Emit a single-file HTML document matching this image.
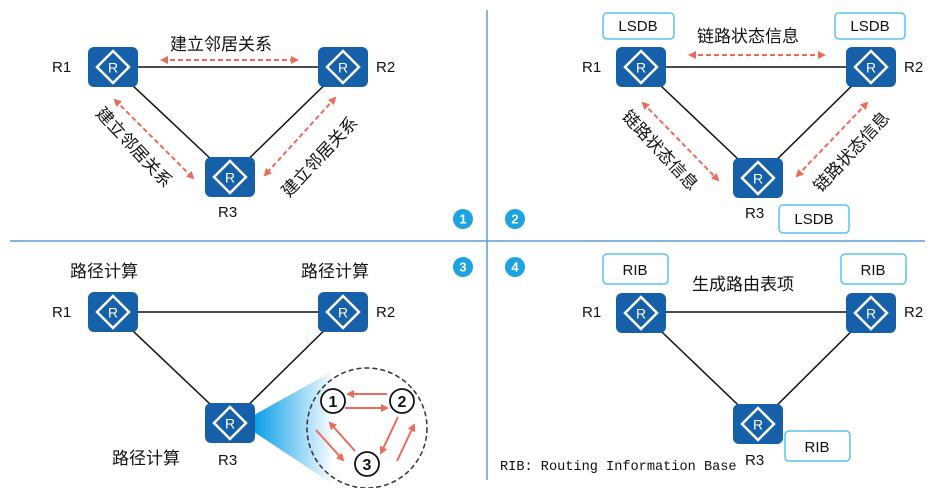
<!DOCTYPE html>
<html><head><meta charset="utf-8"><style>
body{margin:0;background:#fff}
svg{display:block}
text{font-family:"Liberation Sans","Noto Sans CJK SC",sans-serif;fill:#111}
</style></head><body>
<svg width="935" height="488" viewBox="0 0 935 488" xmlns="http://www.w3.org/2000/svg">
<defs>
<g id="rt">
<rect x="0" y="0" width="50" height="40" rx="6" fill="#1560a8"/>
<path d="M25 4 L41 20 L25 36 L9 20 Z" fill="none" stroke="#fff" stroke-width="2.5"/>
<text x="25" y="25.5" font-size="14" text-anchor="middle" style="fill:#fff">R</text>
</g>
<marker id="ah" markerWidth="8" markerHeight="8" refX="6" refY="4" orient="auto-start-reverse" markerUnits="userSpaceOnUse">
<path d="M0 0 L8 4 L0 8 Z" fill="#ee6a5a"/></marker>
<linearGradient id="gr" x1="0" x2="1" y1="0" y2="0">
<stop offset="0" stop-color="#0a9ee8"/><stop offset="1" stop-color="#0a9ee8" stop-opacity="0.05"/></linearGradient>
</defs>
<line x1="487" y1="10" x2="487" y2="480" stroke="#5b9bd5" stroke-width="1.5"/>
<line x1="10" y1="241" x2="925" y2="241" stroke="#5b9bd5" stroke-width="1.5"/>
<g font-size="13" font-weight="bold" text-anchor="middle">
<circle cx="463" cy="219" r="10" fill="#1ca3e2"/><text x="463" y="223.5" style="fill:#fff">1</text>
<circle cx="515" cy="219" r="10" fill="#1ca3e2"/><text x="515" y="223.5" style="fill:#fff">2</text>
<circle cx="463" cy="267" r="10" fill="#1ca3e2"/><text x="463" y="271.5" style="fill:#fff">3</text>
<circle cx="515" cy="267" r="10" fill="#1ca3e2"/><text x="515" y="271.5" style="fill:#fff">4</text>
</g>

<!-- Q1 -->
<g stroke="#111" stroke-width="1.5">
<line x1="113" y1="67" x2="343" y2="67"/><line x1="113" y1="67" x2="230" y2="177"/><line x1="343" y1="67" x2="230" y2="177"/>
</g>
<g stroke="#ee6a5a" stroke-width="2" stroke-dasharray="5,3" marker-start="url(#ah)" marker-end="url(#ah)">
<line x1="162" y1="60" x2="297" y2="60"/>
<line x1="115" y1="100" x2="193" y2="178"/>
<line x1="335" y1="98" x2="265" y2="175"/>
</g>
<use href="#rt" x="88" y="47"/><use href="#rt" x="318" y="47"/><use href="#rt" x="205" y="157"/>
<g font-size="15"><text x="52" y="72">R1</text><text x="376" y="72">R2</text><text x="218" y="217">R3</text></g>
<text x="170" y="50" font-size="17">建立邻居关系</text>
<text font-size="17" transform="translate(95,114) rotate(47)">建立邻居关系</text>
<text font-size="17" transform="translate(289,198) rotate(-47)">建立邻居关系</text>

<!-- Q2 -->
<g stroke="#111" stroke-width="1.5">
<line x1="641" y1="67" x2="871" y2="67"/><line x1="641" y1="67" x2="758" y2="178"/><line x1="871" y1="67" x2="758" y2="178"/>
</g>
<g stroke="#ee6a5a" stroke-width="2" stroke-dasharray="5,3" marker-start="url(#ah)" marker-end="url(#ah)">
<line x1="690" y1="55" x2="824" y2="55"/>
<line x1="643" y1="103" x2="718" y2="180"/>
<line x1="867" y1="103" x2="797" y2="176"/>
</g>
<use href="#rt" x="616" y="47"/><use href="#rt" x="846" y="47"/><use href="#rt" x="733" y="158"/>
<g font-size="15"><text x="582" y="72">R1</text><text x="904" y="72">R2</text><text x="745" y="218">R3</text></g>
<text x="697" y="42" font-size="17">链路状态信息</text>
<text font-size="17" transform="translate(621,117) rotate(47)">链路状态信息</text>
<text font-size="17" transform="translate(821,193) rotate(-47)">链路状态信息</text>
<g fill="#fff" stroke="#5bc3ee" stroke-width="1.5">
<rect x="603" y="13" width="71" height="26" rx="4"/><rect x="835" y="13" width="70" height="26" rx="4"/><rect x="779" y="205" width="70" height="28" rx="4"/>
</g>
<g font-size="15" text-anchor="middle"><text x="638" y="31">LSDB</text><text x="870" y="31">LSDB</text><text x="814" y="224">LSDB</text></g>

<!-- Q3 -->
<path d="M254 415 L331 372 L331 483 L254 432 Z" fill="url(#gr)"/>
<g stroke="#111" stroke-width="1.5">
<line x1="113" y1="312" x2="343" y2="312"/><line x1="113" y1="312" x2="230" y2="423"/><line x1="343" y1="312" x2="230" y2="423"/>
</g>
<use href="#rt" x="88" y="292"/><use href="#rt" x="318" y="292"/><use href="#rt" x="205" y="403"/>
<g font-size="15"><text x="52" y="317">R1</text><text x="376" y="317">R2</text><text x="218" y="465">R3</text></g>
<g font-size="17"><text x="70" y="277">路径计算</text><text x="301" y="277">路径计算</text><text x="112" y="464">路径计算</text></g>
<circle cx="367" cy="428" r="60" fill="none" stroke="#333" stroke-width="1.5" stroke-dasharray="5,3"/>
<g stroke="#ee6a5a" stroke-width="2" marker-end="url(#ah)">
<line x1="387" y1="394" x2="348" y2="394"/>
<line x1="345" y1="408" x2="387" y2="408"/>
<line x1="398" y1="417" x2="381" y2="453"/>
<line x1="397" y1="461" x2="414" y2="425"/>
<line x1="355" y1="451" x2="330" y2="423"/>
<line x1="316" y1="430" x2="343" y2="460"/>
</g>
<g fill="#fff" stroke="#111" stroke-width="1.8">
<circle cx="333" cy="401" r="12"/><circle cx="402" cy="401" r="12"/><circle cx="367" cy="464" r="12"/>
</g>
<g font-size="16" font-weight="bold" text-anchor="middle"><text x="333" y="407">1</text><text x="402" y="407">2</text><text x="367" y="470">3</text></g>

<!-- Q4 -->
<g stroke="#111" stroke-width="1.5">
<line x1="641" y1="312" x2="871" y2="312"/><line x1="641" y1="312" x2="758" y2="424"/><line x1="871" y1="312" x2="758" y2="424"/>
</g>
<use href="#rt" x="616" y="293"/><use href="#rt" x="846" y="293"/><use href="#rt" x="733" y="404"/>
<g font-size="15"><text x="582" y="317">R1</text><text x="904" y="317">R2</text><text x="745" y="465">R3</text></g>
<text x="692" y="290" font-size="17">生成路由表项</text>
<g fill="#fff" stroke="#5bc3ee" stroke-width="1.5">
<rect x="603" y="254" width="65" height="30" rx="4"/><rect x="841" y="254" width="65" height="30" rx="4"/><rect x="785" y="431" width="65" height="30" rx="4"/>
</g>
<g font-size="15" text-anchor="middle"><text x="635" y="275">RIB</text><text x="873" y="275">RIB</text><text x="817" y="452">RIB</text></g>
<text x="500" y="470" font-size="13.6" style="font-family:'Liberation Mono',monospace">RIB: Routing Information Base</text>
</svg>
</body></html>
